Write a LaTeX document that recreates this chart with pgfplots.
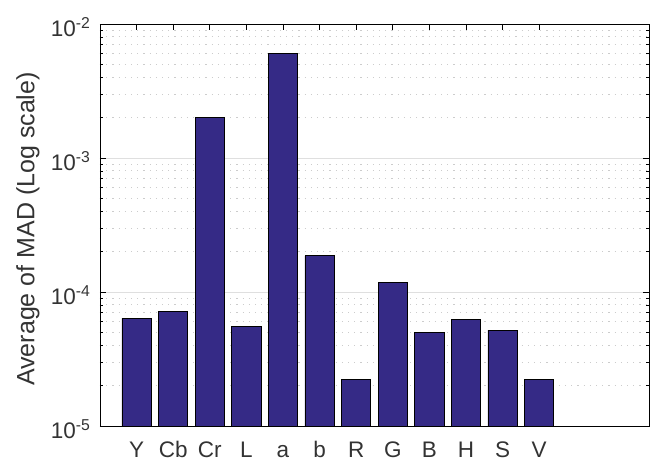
\documentclass[border=0pt]{standalone}
\usepackage{pgfplots}
\pgfplotsset{compat=1.18}
\usepackage{fontspec}
\setmainfont{Liberation Sans}
\definecolor{barblue}{RGB}{53,42,134}

\begin{document}
\begin{tikzpicture}
\begin{axis}[
    scale only axis,
    width=549pt, height=402pt,
    ymode=log, ymin=1e-5, ymax=1e-2, log origin y=infty,
    xmin=0, xmax=15,
    xtick={1,...,12},
    xticklabels={Y,Cb,Cr,L,a,b,R,G,B,H,S,V},
    ytick={1e-5,1e-4,1e-3,1e-2},
    yticklabels={10\textsuperscript{-5},10\textsuperscript{-4},10\textsuperscript{-3},10\textsuperscript{-2}},
    minor ytick={2e-5,3e-5,4e-5,5e-5,6e-5,7e-5,8e-5,9e-5,
                 2e-4,3e-4,4e-4,5e-4,6e-4,7e-4,8e-4,9e-4,
                 2e-3,3e-3,4e-3,5e-3,6e-3,7e-3,8e-3,9e-3},
    tick align=inside,
    major tick length=6pt, minor tick length=3.5pt,
    tick style={black, line width=0.8pt},
    axis line style={line width=0.9pt},
    ymajorgrids, yminorgrids,
    major grid style={gray!25, line width=0.8pt},
    minor grid style={gray!40, line width=1pt, dash pattern=on 1.2pt off 5pt},
    ylabel={Average of MAD (Log scale)},
    font=\fontsize{22.5}{26}\selectfont,
    every tick label/.append style={text=black!80},
    ylabel style={font=\fontsize{25}{30}\selectfont, text=black!80,
        at={(rel axis cs:0,0.49)}, anchor=center, yshift=72pt},
    xticklabel style={anchor=base, yshift=-31pt},
    yticklabel style={anchor=east, xshift=-6pt, yshift=-3pt},
]
\addplot[ybar, bar width=0.8, fill=barblue, draw=black, line width=0.8pt]
coordinates {
(1,6.37e-5) (2,7.18e-5) (3,2.02e-3) (4,5.57e-5) (5,6.04e-3) (6,1.86e-4)
(7,2.23e-5) (8,1.17e-4) (9,4.97e-5) (10,6.25e-5) (11,5.2e-5) (12,2.23e-5)
};
\coordinate (tr) at (rel axis cs:1,1);
\coordinate (bl) at (rel axis cs:0,0);
\end{axis}
\useasboundingbox ([shift={(-100pt,-35pt)}]bl) rectangle ([shift={(8pt,24pt)}]tr);
\end{tikzpicture}
\end{document}
